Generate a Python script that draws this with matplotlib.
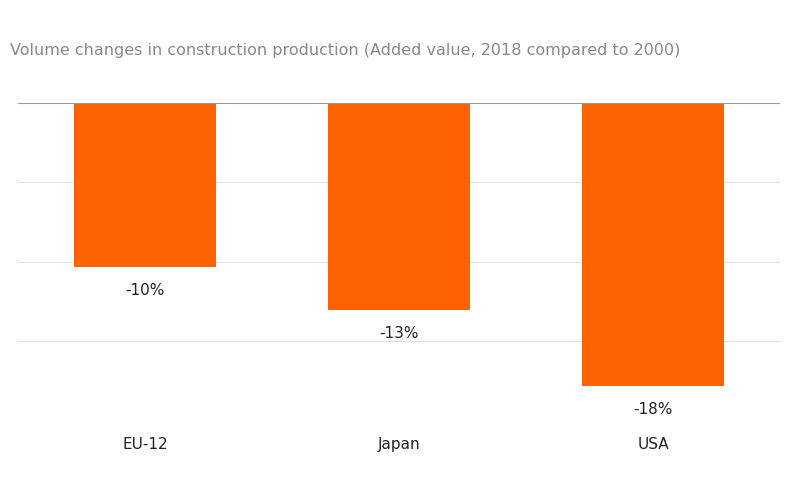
import matplotlib
matplotlib.use("Agg")
import matplotlib.pyplot as plt

categories = ["EU-12", "Japan", "USA"]
values = [-10.35, -13.05, -17.85]
labels = ["-10%", "-13%", "-18%"]

fig = plt.figure(figsize=(8, 4.78), dpi=100)
ax = fig.add_axes([18/800, 1-420/478, 762/800, (420-103)/478])
x = range(len(categories))
ax.bar(x, values, width=0.56, color="#FF6200", zorder=2)
ax.set_xlim(-0.5, 2.5)
ax.set_ylim(-20, 0)
for v in [-5, -10, -15, -20]:
    ax.axhline(v, color="#E0E0E0", lw=0.8, zorder=1)
ax.axhline(0, color="#999999", lw=0.8, zorder=3)
for i, (v, l) in enumerate(zip(values, labels)):
    ax.text(i, v - 1.0, l, ha="center", va="top", fontsize=11, color="#222222")
for s in ax.spines.values():
    s.set_visible(False)
ax.set_yticks([])
ax.set_xticks(list(x))
ax.set_xticklabels(categories, fontsize=11, color="#222222")
ax.tick_params(axis="x", length=0, pad=12)
fig.text(10/800, 1-50/478, "Volume changes in construction production (Added value, 2018 compared to 2000)",
         fontsize=11.5, color="#888888", va="center")
fig.savefig("out.png")
